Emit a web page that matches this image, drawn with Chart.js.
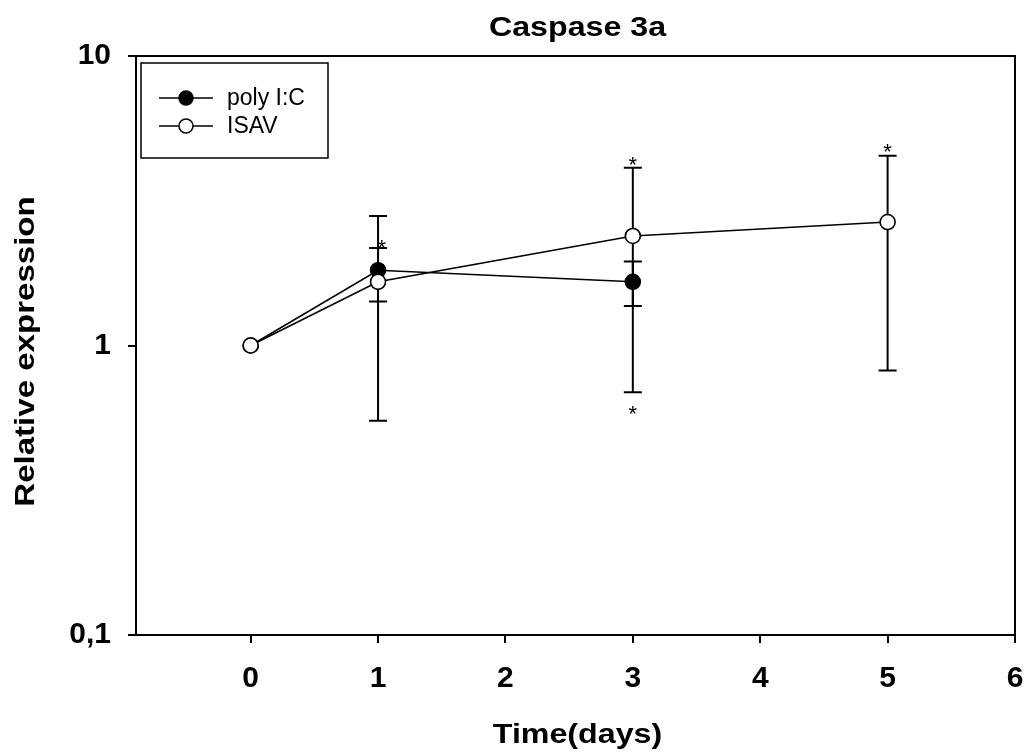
<!DOCTYPE html>
<html>
<head>
<meta charset="utf-8">
<script src="https://cdn.jsdelivr.net/npm/chart.js@4"></script>
<style>
  html, body { margin: 0; padding: 0; background: #fff; }
  #wrap { width: 1026px; height: 755px; }
</style>
</head>
<body>
<div id="wrap"><canvas id="myChart" width="1026" height="755"></canvas></div>
<script>
var FONT = "'Liberation Sans', Arial, sans-serif";

// data
var polyDays = [0, 1, 3];
var polyValues = [1, 1.82, 1.66];
var polyUpper = [1, 2.17, 1.95];
var polyLower = [1, 1.42, 1.37];

var isavDays = [0, 1, 3, 5];
var isavValues = [1, 1.66, 2.39, 2.67];
var isavUpper = [1, 2.80, 4.11, 4.52];
var isavLower = [1, 0.55, 0.69, 0.82];

// significance marks (*)
var starDays = [1.03, 3, 3, 5];
var starValues = [2.24, 4.35, 0.60, 4.81];

var xTicks = [0, 1, 2, 3, 4, 5, 6];
var yTicks = [0.1, 1, 10];

var titleText = 'Caspase 3a';
var xTitle = 'Time(days)';
var yTitle = 'Relative expression';

function points(xs, ys) {
  return xs.map(function (x, i) { return { x: x, y: ys[i] }; });
}

// the original titles are wide bold type, so stretch them a little
function wideText(c, text, x, y, rot, sx) {
  c.save();
  c.translate(x, y);
  if (rot) c.rotate(rot);
  c.scale(sx, 1);
  c.fillText(text, 0, 0);
  c.restore();
}

var extras = {
  id: 'extras',
  beforeDatasetsDraw: function (chart) {
    var c = chart.ctx, xs = chart.scales.x, ys = chart.scales.y;
    c.save();
    c.strokeStyle = '#000';
    c.lineWidth = 2;
    function bars(days, up, lo) {
      days.forEach(function (d, i) {
        if (up[i] === lo[i]) return;
        var px = xs.getPixelForValue(d);
        var y1 = ys.getPixelForValue(up[i]), y2 = ys.getPixelForValue(lo[i]);
        c.beginPath();
        c.moveTo(px, y1); c.lineTo(px, y2);
        c.moveTo(px - 9, y1); c.lineTo(px + 9, y1);
        c.moveTo(px - 9, y2); c.lineTo(px + 9, y2);
        c.stroke();
      });
    }
    bars(polyDays, polyUpper, polyLower);
    bars(isavDays, isavUpper, isavLower);
    c.restore();
  },
  afterDraw: function (chart) {
    var c = chart.ctx, a = chart.chartArea, xs = chart.scales.x, ys = chart.scales.y;
    c.save();
    // top and right frame
    c.strokeStyle = '#000';
    c.lineWidth = 2;
    c.beginPath();
    c.moveTo(a.left, a.top); c.lineTo(a.right, a.top); c.lineTo(a.right, a.bottom);
    c.stroke();

    // titles
    c.fillStyle = '#000';
    c.font = 'bold 28px ' + FONT;
    c.textAlign = 'center';
    c.textBaseline = 'alphabetic';
    var cx = (a.left + a.right) / 2 + 2;
    wideText(c, titleText, cx, a.top - 20, 0, 1.15);
    wideText(c, xTitle, cx, a.bottom + 108, 0, 1.15);
    wideText(c, yTitle, 34, (a.top + a.bottom) / 2 + 6, -Math.PI / 2, 1.18);

    // stars
    c.font = '22px ' + FONT;
    c.textBaseline = 'middle';
    starDays.forEach(function (d, i) {
      c.fillText('*', xs.getPixelForValue(d), ys.getPixelForValue(starValues[i]) + 5);
    });

    // legend
    var lx = a.left + 5, ly = a.top + 7;
    c.lineWidth = 1.5;
    c.strokeRect(lx, ly, 187, 95);
    c.font = '23px ' + FONT;
    c.textAlign = 'left';
    var rows = [['poly I:C', '#000', 35], ['ISAV', '#fff', 63]];
    rows.forEach(function (r) {
      var y = ly + r[2];
      c.lineWidth = 1.5;
      c.beginPath();
      c.moveTo(lx + 18, y); c.lineTo(lx + 72, y);
      c.stroke();
      c.beginPath();
      c.arc(lx + 45, y, 7, 0, Math.PI * 2);
      c.fillStyle = r[1];
      c.fill();
      c.stroke();
      c.fillStyle = '#000';
      c.fillText(r[0], lx + 86, y + 1);
    });
    c.restore();
  }
};

var ctx = document.getElementById('myChart').getContext('2d');
var myChart = new Chart(ctx, {
  type: 'line',
  data: {
    datasets: [{
      label: 'poly I:C',
      data: points(polyDays, polyValues),
      borderColor: '#000',
      borderWidth: 1.6,
      pointRadius: 7.5,
      pointBorderWidth: 1.6,
      pointBackgroundColor: '#000',
      pointBorderColor: '#000',
      order: 2
    }, {
      label: 'ISAV',
      data: points(isavDays, isavValues),
      borderColor: '#000',
      borderWidth: 1.6,
      pointRadius: 7.5,
      pointBorderWidth: 1.6,
      pointBackgroundColor: '#fff',
      pointBorderColor: '#000',
      order: 1
    }]
  },
  options: {
    responsive: false,
    animation: false,
    layout: { padding: { left: 0, right: 11, top: 56, bottom: 0 } },
    plugins: {
      legend: { display: false },
      tooltip: { enabled: false }
    },
    scales: {
      x: {
        type: 'linear',
        min: -0.9,
        max: 6,
        afterBuildTicks: function (s) { s.ticks = xTicks.map(function (v) { return { value: v }; }); },
        afterFit: function (s) { s.height = 120; s.paddingLeft = 0; s.paddingRight = 0; },
        ticks: {
          color: '#000',
          padding: 18,
          maxRotation: 0,
          font: { family: FONT, size: 30, weight: 'bold' }
        },
        grid: { drawOnChartArea: false, drawTicks: true, tickLength: 8, color: '#000', lineWidth: 2 },
        border: { display: true, color: '#000', width: 2 }
      },
      y: {
        type: 'logarithmic',
        min: 0.1,
        max: 10,
        afterBuildTicks: function (s) { s.ticks = yTicks.map(function (v) { return { value: v }; }); },
        afterFit: function (s) { s.width = 136; s.paddingTop = 0; s.paddingBottom = 0; },
        ticks: {
          color: '#000',
          padding: 17,
          font: { family: FONT, size: 30, weight: 'bold' },
          callback: function (v) { return String(v).replace('.', ','); }
        },
        grid: { drawOnChartArea: false, drawTicks: true, tickLength: 8, color: '#000', lineWidth: 2 },
        border: { display: true, color: '#000', width: 2 }
      }
    }
  },
  plugins: [extras]
});
</script>
</body>
</html>
